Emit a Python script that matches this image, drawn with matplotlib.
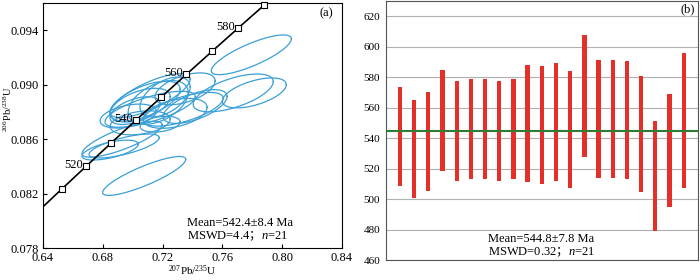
import matplotlib
matplotlib.use("Agg")
import matplotlib.pyplot as plt
import numpy as np

plt.rcParams['font.family'] = ['Liberation Serif', 'Noto Sans CJK SC']
plt.rcParams['mathtext.fontset'] = 'custom'
plt.rcParams['mathtext.rm'] = 'Liberation Serif'
plt.rcParams['mathtext.it'] = 'Liberation Serif:italic'
plt.rcParams['mathtext.sf'] = 'Noto Sans CJK SC'

# ---- panel (a): concordia data (x=207Pb/235U, y=206Pb/238U, half-widths, rho)
ell_x = [0.7077, 0.7794, 0.7814, 0.7673, 0.7418, 0.7351, 0.7117, 0.7083, 0.7050,
         0.7171, 0.7016, 0.7217, 0.7284, 0.7338, 0.7050, 0.7184, 0.6929, 0.6943,
         0.6970, 0.7117, 0.6849]
ell_ex = [0.0278, 0.0268, 0.0214, 0.0268, 0.0214, 0.0201, 0.0268, 0.0235, 0.0201,
          0.0201, 0.0168, 0.0168, 0.0214, 0.0268, 0.0201, 0.0134, 0.0268, 0.0235,
          0.0188, 0.0302, 0.0188]
ell_y = [0.0833, 0.0922, 0.0894, 0.0894, 0.0884, 0.0897, 0.0892, 0.0888, 0.0885,
         0.0887, 0.0881, 0.0891, 0.0879, 0.0882, 0.0872, 0.0871, 0.0860, 0.0855,
         0.0877, 0.0882, 0.0852]
ell_ey = [0.00143, 0.00146, 0.00110, 0.00139, 0.00124, 0.00117, 0.00161, 0.00146, 0.00124,
          0.00161, 0.00102, 0.00146, 0.00110, 0.00124, 0.00088, 0.00058, 0.00132, 0.00088,
          0.00088, 0.00132, 0.00073]
ell_rho = [0.85, 0.8, 0.55, 0.6, 0.6, 0.5, 0.75, 0.6, 0.5,
           0.45, 0.5, 0.5, 0.4, 0.65, 0.3, 0.3, 0.8, 0.7,
           0.4, 0.7, 0.6]

tick_ages = [510, 520, 530, 540, 550, 560, 570, 580, 590]
label_ages = [520, 540, 560, 580]
lam238 = 1.55125e-10
lam235 = 9.8485e-10

# ---- panel (b): 206Pb/238U ages, error bar extents
bar_top = [573.5, 565.2, 570.2, 584.8, 577.8, 578.7, 578.7, 577.8, 578.7, 588.3, 587.4,
           589.6, 584.1, 607.8, 591.5, 591.5, 590.7, 580.9, 551.1, 569.1, 595.9]
bar_bottom = [508.5, 501.0, 505.4, 518.5, 512.0, 513.0, 513.0, 512.0, 513.0, 511.3, 510.2,
              512.2, 507.6, 528.0, 514.1, 514.1, 513.0, 504.8, 479.1, 494.6, 507.6]
mean_age = 544.8

fig = plt.figure(figsize=(7, 2.8), dpi=100)
ax1 = fig.add_axes([0.0614, 0.114, 0.427, 0.875])
ax2 = fig.add_axes([0.551, 0.071, 0.446, 0.925])

# concordia curve
t = np.linspace(495, 600, 200) * 1e6
ax1.plot(np.exp(lam235 * t) - 1, np.exp(lam238 * t) - 1, color='black', lw=1.2, zorder=3)
ta = np.array(tick_ages) * 1e6
ax1.plot(np.exp(lam235 * ta) - 1, np.exp(lam238 * ta) - 1, 's', ms=4, mfc='white',
         mec='black', mew=0.8, zorder=4, clip_on=False)
for age in label_ages:
    ax1.annotate(str(age), (np.exp(lam235 * age * 1e6) - 1, np.exp(lam238 * age * 1e6) - 1),
                 xytext=(-2, -1), textcoords='offset points', ha='right', va='baseline',
                 fontsize=9, zorder=5)

# error ellipses
th = np.linspace(0, 2 * np.pi, 200)
for x, ex, y, ey, r in zip(ell_x, ell_ex, ell_y, ell_ey, ell_rho):
    cov = np.array([[ex ** 2, r * ex * ey], [r * ex * ey, ey ** 2]])
    L = np.linalg.cholesky(cov)
    pts = L @ np.vstack([np.cos(th), np.sin(th)])
    ax1.plot(x + pts[0], y + pts[1], color='#3b9fd8', lw=0.9, zorder=2)

ax1.set_xlim(0.64, 0.84)
ax1.set_ylim(0.078, 0.096)
ax1.set_xticks([0.64, 0.68, 0.72, 0.76, 0.80, 0.84])
ax1.set_yticks([0.078, 0.082, 0.086, 0.090, 0.094])
ax1.xaxis.set_major_formatter(matplotlib.ticker.FormatStrFormatter('%.2f'))
ax1.yaxis.set_major_formatter(matplotlib.ticker.FormatStrFormatter('%.3f'))
ax1.tick_params(direction='in', length=3, labelsize=9, pad=3)
ax1.set_xlabel(r'$^{207}$Pb/$^{235}$U', fontsize=8)
ax1.set_ylabel(r'$^{206}$Pb/$^{238}$U', fontsize=7.5)
ax1.xaxis.set_label_coords(0.5, -0.062)
ax1.yaxis.set_label_coords(-0.097, 0.565)
for s in ax1.spines.values():
    s.set_linewidth(0.8)
ax1.text(0.97, 0.947, '(a)', transform=ax1.transAxes, ha='right', va='baseline', fontsize=9)
ax1.text(0.482, 0.090, 'Mean=542.4±8.4 Ma', transform=ax1.transAxes, va='baseline', fontsize=9)
ax1.text(0.482, 0.037, r'MSWD=4.4$\mathsf{；}\mathit{n}$=21', transform=ax1.transAxes,
         va='baseline', fontsize=9)

# panel (b)
idx = np.arange(1, len(bar_top) + 1)
heights = np.array(bar_top) - np.array(bar_bottom)
ax2.bar(idx, heights, bottom=bar_bottom, width=0.3, color='#e5302a', zorder=3)
ax2.axhline(mean_age, color='#2e7d32', lw=1.5, zorder=4)
ax2.set_xlim(0, 22)
ax2.set_ylim(460, 630)
ax2.set_yticks(np.arange(460, 621, 20))
ax2.set_xticks([])
ax2.yaxis.grid(True, color='#b0b0b0', lw=0.8, zorder=0)
ax2.tick_params(axis='y', length=0, labelsize=8, pad=4)
for s in ax2.spines.values():
    s.set_linewidth(0.8)
    s.set_color('#555555')
ax2.text(0.99, 0.957, '(b)', transform=ax2.transAxes, ha='right', va='baseline', fontsize=9)
ax2.text(0.327, 0.0695, 'Mean=544.8±7.8 Ma', transform=ax2.transAxes, va='baseline', fontsize=9)
ax2.text(0.327, 0.019, r'MSWD=0.32$\mathsf{；}\mathit{n}$=21', transform=ax2.transAxes,
         va='baseline', fontsize=9)

fig.savefig('out.png', dpi=100)
